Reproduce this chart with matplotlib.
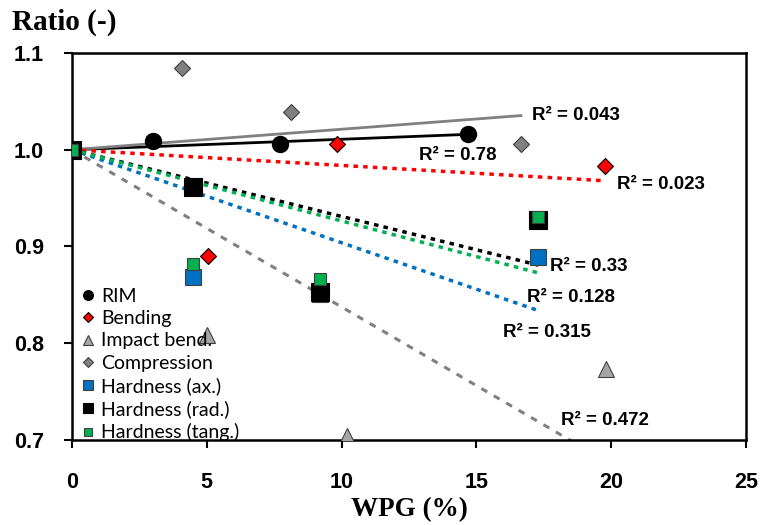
import numpy as np
import matplotlib
matplotlib.use("Agg")
import matplotlib.pyplot as plt

# data
rim_x = [0, 3.0, 7.7, 14.7]
rim_y = [1.0, 1.009, 1.006, 1.016]
bend_x = [0, 5.04, 9.83, 19.77]
bend_y = [1.0, 0.89, 1.006, 0.983]
impact_x = [0, 5.0, 10.2, 19.8]
impact_y = [1.0, 0.809, 0.704, 0.773]
comp_x = [0, 4.08, 8.12, 16.65]
comp_y = [1.0, 1.085, 1.039, 1.006]
hard_x = [0, 4.5, 9.2, 17.3]
hard_ax = [1.0, 0.868, 0.851, 0.889]
hard_rad = [1.0, 0.962, 0.853, 0.927]
hard_tang = [1.0, 0.882, 0.866, 0.930]

r2_text = ["0.78", "0.023", "0.472", "0.043", "0.315", "0.33", "0.128"]
r2_pos = [(12.87, 0.994), (20.21, 0.964), (18.14, 0.720), (17.06, 1.035),
          (15.98, 0.811), (17.73, 0.879), (16.88, 0.847)]


def fit_line(x, y):
    # linear trend with intercept fixed at 1
    x = np.asarray(x, float)
    y = np.asarray(y, float)
    k = np.sum(x * (y - 1)) / np.sum(x ** 2)
    xs = np.array([0, x.max()])
    return xs, 1 + k * xs


fig = plt.figure(figsize=(7.62, 5.25), dpi=100)
ax = fig.add_axes([0.0945, 0.162, 0.8845, 0.737])

blue = "#0070C0"
green = "#00B050"
red = "#FF0000"
gray = "#808080"
lgray = "#A6A6A6"

# trend lines
xs, ys = fit_line(rim_x, rim_y)
ax.plot(xs, ys, color="black", lw=2, zorder=2)
xs, ys = fit_line(comp_x, comp_y)
ax.plot(xs, ys, color=gray, lw=2, zorder=2)
xs, ys = fit_line(bend_x, bend_y)
ax.plot(xs, ys, color=red, lw=2.5, ls=(0, (1.3, 1.5)), zorder=2)
xs, ys = fit_line(impact_x, impact_y)
ax.plot(xs, ys, color=gray, lw=2.2, ls=(0, (2.2, 2.5)), zorder=2)
xs, ys = fit_line(hard_x, hard_ax)
ax.plot(xs, ys, color=blue, lw=2.5, ls=(0, (1.3, 1.5)), zorder=2)
xs, ys = fit_line(hard_x, hard_rad)
ax.plot(xs, ys, color="black", lw=2.5, ls=(0, (1.3, 1.5)), zorder=2)
xs, ys = fit_line(hard_x, hard_tang)
ax.plot(xs, ys, color=green, lw=2.5, ls=(0, (1.3, 1.5)), zorder=2)

# markers
ax.plot(rim_x, rim_y, "o", color="black", ms=11.5, ls="none", label="RIM", zorder=3)
ax.plot(bend_x, bend_y, "D", mfc=red, mec="black", mew=0.8, ms=8, ls="none",
        label="Bending", zorder=3)
ax.plot(impact_x, impact_y, "^", mfc=lgray, mec="#404040", mew=0.8, ms=11, ls="none",
        label="Impact bend.", zorder=3)
ax.plot(comp_x, comp_y, "D", mfc=gray, mec="#404040", mew=0.8, ms=8.5, ls="none",
        label="Compression", zorder=3)
ax.plot(hard_x, hard_ax, "s", mfc=blue, mec="#404040", mew=0.8, ms=11, ls="none",
        label="Hardness (ax.)", zorder=3)
ax.plot(hard_x, hard_rad, "s", mfc="black", mec="black", mew=0.8, ms=12.5, ls="none",
        label="Hardness (rad.)", zorder=3)
ax.plot(hard_x, hard_tang, "s", mfc=green, mec="#404040", mew=0.8, ms=8.5, ls="none",
        label="Hardness (tang.)", zorder=3)

for t, (px, py) in zip(r2_text, r2_pos):
    ax.text(px, py, "R\u00b2 = " + t, fontsize=13.5, fontweight="bold",
            family="Liberation Sans", va="center", ha="left", zorder=4)

ax.set_xlim(0, 25)
ax.set_ylim(0.7, 1.1)
ax.set_xticks([0, 5, 10, 15, 20, 25])
ax.set_yticks([0.7, 0.8, 0.9, 1.0, 1.1])
ax.set_yticklabels(["0.7", "0.8", "0.9", "1.0", "1.1"])
for lab in ax.get_xticklabels() + ax.get_yticklabels():
    lab.set_fontfamily("Liberation Sans")
    lab.set_fontweight("bold")
    lab.set_fontsize(15.5)
ax.tick_params(axis="x", direction="out", length=6, width=1.5, pad=17)
ax.tick_params(axis="y", direction="out", length=6, width=1.5, pad=14)
for s in ax.spines.values():
    s.set_linewidth(1.8)

ax.set_xlabel("WPG (%)", family="Liberation Serif", fontweight="bold", fontsize=19.5,
              labelpad=3)
fig.text(0.016, 0.958, "Ratio (-)", family="Liberation Serif", fontweight="bold",
         fontsize=21, ha="left", va="center")

leg = ax.legend(loc="upper left", bbox_to_anchor=(0.0, 0.418), frameon=False,
                prop={"family": "Lato", "size": 14}, handlelength=0.6,
                handletextpad=0.4, labelspacing=0.27, markerscale=0.6,
                borderpad=0.2, borderaxespad=0.3)

fig.savefig("out.png", dpi=100)
